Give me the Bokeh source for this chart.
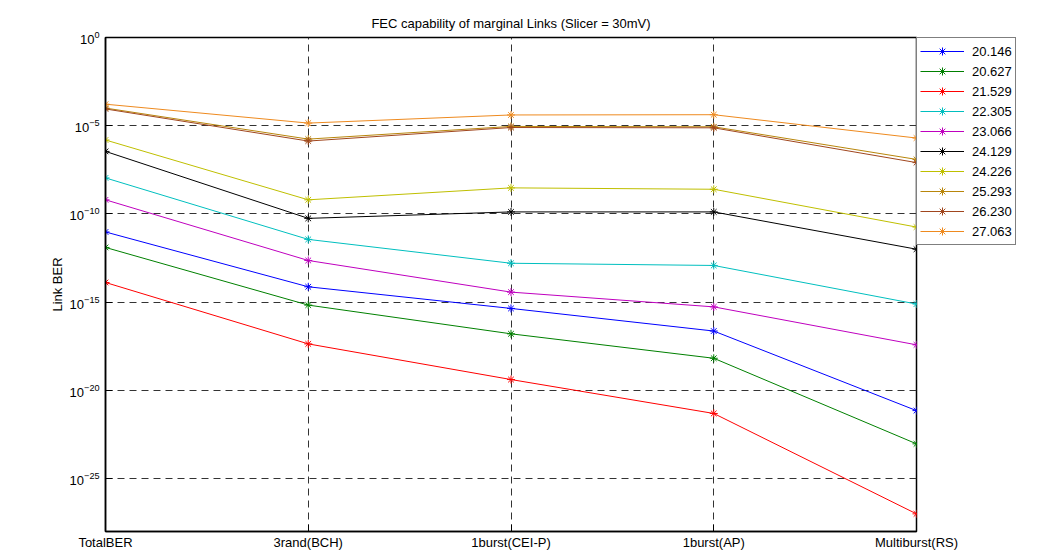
from bokeh.plotting import figure
from bokeh.layouts import row
from bokeh.models import Range1d, FixedTicker, LogTickFormatter, Legend, LegendItem
from bokeh.embed import file_html
from bokeh.resources import INLINE

# ---- data ----
categories = ["TotalBER", "3rand(BCH)", "1burst(CEI-P)", "1burst(AP)", "Multiburst(RS)"]
x_pos = [1, 2, 3, 4, 5]

series_names = ["20.146", "20.627", "21.529", "22.305", "23.066",
                "24.129", "24.226", "25.293", "26.230", "27.063"]

ber_20_146 = [9.5e-12, 7.4e-15, 4.4e-16, 2.3e-17, 7.1e-22]
ber_20_627 = [1.26e-12, 6.8e-16, 1.6e-17, 6.6e-19, 9.3e-24]
ber_21_529 = [1.3e-14, 4.3e-18, 4.1e-20, 4.9e-22, 1.0e-27]
ber_22_305 = [1.1e-8, 3.6e-12, 1.6e-13, 1.2e-13, 7.8e-16]
ber_23_066 = [6.3e-10, 2.3e-13, 3.7e-15, 5.4e-16, 3.8e-18]
ber_24_129 = [3.5e-7, 5.6e-11, 1.3e-10, 1.3e-10, 1.0e-12]
ber_24_226 = [1.55e-6, 6.3e-10, 3.0e-9, 2.5e-9, 1.8e-11]
ber_25_293 = [1.0e-4, 1.74e-6, 9.1e-6, 8.7e-6, 1.23e-7]
ber_26_230 = [8.9e-5, 1.35e-6, 7.9e-6, 7.6e-6, 8.1e-8]
ber_27_063 = [1.66e-4, 1.41e-5, 4.07e-5, 4.2e-5, 2.0e-6]

series_values = [ber_20_146, ber_20_627, ber_21_529, ber_22_305, ber_23_066,
                 ber_24_129, ber_24_226, ber_25_293, ber_26_230, ber_27_063]

colors = ["#0000FF", "#008000", "#FF0000", "#00BFBF", "#BF00BF",
          "#000000", "#BFBF00", "#B8860B", "#A0461E", "#EE8A1F"]

y_ticks = [1e-25, 1e-20, 1e-15, 1e-10, 1e-5, 1e0]

FONT = "Liberation Sans"
H = 557
RIGHT_PAD = 44   # room to the right of the frame for the last x tick label

p = figure(width=916 + RIGHT_PAD, height=H,
           x_range=Range1d(1, 5), y_range=Range1d(1e-28, 1),
           y_axis_type="log",
           output_backend="svg", toolbar_location=None,
           title="FEC capability of marginal Links (Slicer = 30mV)",
           min_border_left=105, min_border_right=RIGHT_PAD,
           min_border_top=37, min_border_bottom=26)

p.background_fill_color = "white"
p.border_fill_color = "white"
p.outline_line_color = "black"
p.outline_line_width = 1.5

p.title.align = "center"
p.title.text_font = FONT
p.title.text_font_size = "13px"
p.title.text_font_style = "normal"
p.title.text_color = "black"
p.title.standoff = 13

# x axis
p.xaxis.ticker = FixedTicker(ticks=x_pos)
p.xaxis.major_label_overrides = {x: c for x, c in zip(x_pos, categories)}
p.xaxis.major_label_text_font = FONT
p.xaxis.major_label_text_font_size = "13px"
p.xaxis.major_label_text_color = "black"
p.xaxis.major_label_standoff = 3
p.xaxis.major_tick_in = 7
p.xaxis.major_tick_out = 0
p.xaxis.minor_tick_in = 0
p.xaxis.minor_tick_out = 0
p.xaxis.axis_line_color = "black"
p.xaxis.axis_line_width = 1.5
p.xaxis.major_tick_line_color = "black"

# y axis
p.yaxis.ticker = FixedTicker(ticks=y_ticks)
p.yaxis.formatter = LogTickFormatter()
p.yaxis.major_label_text_font = FONT
p.yaxis.major_label_text_font_size = "13px"
p.yaxis.major_label_text_color = "black"
p.yaxis.major_label_standoff = 6
p.yaxis.major_tick_in = 7
p.yaxis.major_tick_out = 0
p.yaxis.minor_tick_in = 0
p.yaxis.minor_tick_out = 0
p.yaxis.axis_line_color = "black"
p.yaxis.axis_line_width = 1.5
p.yaxis.major_tick_line_color = "black"
p.yaxis.axis_label = "Link BER"
p.yaxis.axis_label_text_font = FONT
p.yaxis.axis_label_text_font_size = "13px"
p.yaxis.axis_label_text_font_style = "normal"
p.yaxis.axis_label_text_color = "black"
p.yaxis.axis_label_standoff = 2

# grids
for g in (p.xgrid, p.ygrid):
    g.grid_line_color = "#333333"
    g.grid_line_dash = "7 5"
    g.grid_line_width = 1
p.xgrid.ticker = FixedTicker(ticks=x_pos)
p.ygrid.ticker = FixedTicker(ticks=y_ticks)

for vals, col in zip(series_values, colors):
    p.line(x_pos, vals, line_color=col, line_width=1)
    p.scatter(x_pos, vals, marker="asterisk", size=8, line_color=col, line_width=1)

# legend panel, overlapping the right padding of the main figure
pl = figure(width=101 + RIGHT_PAD, height=H,
            x_range=Range1d(-10, -9), y_range=Range1d(-10, -9),
            x_axis_location=None, y_axis_location=None,
            output_backend="svg", toolbar_location=None,
            min_border_left=RIGHT_PAD, min_border_right=0,
            min_border_top=37, min_border_bottom=0)
pl.styles = {"margin-left": "-%dpx" % (2 * RIGHT_PAD)}
pl.grid.visible = False
pl.outline_line_color = None
pl.background_fill_alpha = 0
pl.border_fill_alpha = 0

items = []
for name, vals, col in zip(series_names, series_values, colors):
    r1 = pl.line(x_pos, vals, line_color=col, line_width=1)
    r2 = pl.scatter(x_pos, vals, marker="asterisk", size=8, line_color=col, line_width=1)
    items.append(LegendItem(label=name, renderers=[r1, r2]))

legend = Legend(items=items, location="top_left")
legend.margin = 0
legend.padding = 3
legend.spacing = 0
legend.glyph_width = 44
legend.glyph_height = 20
legend.label_height = 20
legend.label_standoff = 8
legend.label_text_font = FONT
legend.label_text_font_size = "13px"
legend.label_text_color = "black"
legend.border_line_color = "black"
legend.border_line_width = 1.5
legend.background_fill_color = "white"
legend.background_fill_alpha = 1
pl.add_layout(legend, "center")

layout = row(p, pl)
open("out.html", "w").write(file_html(layout, INLINE))
